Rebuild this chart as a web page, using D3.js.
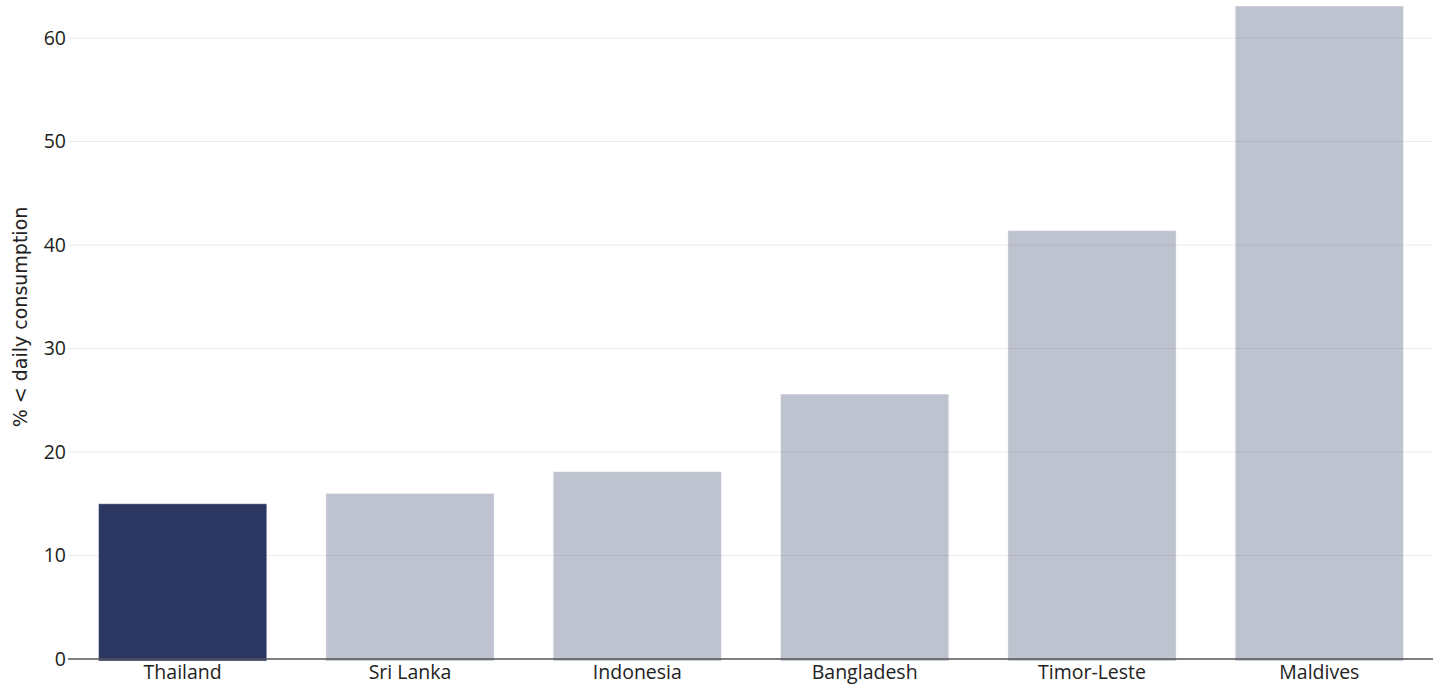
<!DOCTYPE html>
<html><head><meta charset="utf-8">
<script src="https://cdn.jsdelivr.net/npm/d3@7"></script>
<style>body{margin:0;background:#fff;} svg{display:block;}</style>
</head><body>
<svg id="chart" width="1442" height="686"></svg>
<script>
const categories = ["Thailand","Sri Lanka","Indonesia","Bangladesh","Timor-Leste","Maldives"];
const values = [15.0, 16.0, 18.1, 25.6, 41.4, 63.1];
const highlight = ["Thailand"];
const yTicks = [0,10,20,30,40,50,60];
const yLabel = "% < daily consumption";

const svg = d3.select("#chart");
const m = {left:69, right:9, top:6, bottom:27};
const W = 1442, H = 686;
const x = d3.scaleBand().domain(categories).range([m.left, W - m.right]).paddingInner(0.26).paddingOuter(0.13);
const y = d3.scaleLinear().domain([0, 63.1]).range([H - m.bottom, m.top]);

const font = "'Open Sans', 'Noto Sans', sans-serif";
// gridlines
svg.append("g").selectAll("line").data(yTicks.filter(d=>d>0)).join("line")
  .attr("x1", 68).attr("x2", W - m.right)
  .attr("y1", d=>y(d)).attr("y2", d=>y(d))
  .attr("stroke", "#ebebeb").attr("stroke-width", 1);

// bars
svg.append("g").selectAll("rect").data(categories).join("rect")
  .attr("x", d=>x(d)).attr("width", x.bandwidth())
  .attr("y", (d,i)=>y(values[i])).attr("height", (d,i)=>y(0) - y(values[i]) + 2)
  .attr("fill", d=>highlight.includes(d) ? "#2c3761" : "rgba(44,55,97,0.3)")
  .attr("stroke", "rgba(255,255,255,0.4)").attr("stroke-width", 1);

// x axis
const xa = svg.append("g").attr("transform", `translate(0,${y(0)})`)
  .call(d3.axisBottom(x).tickSize(0).tickPadding(5));
xa.select(".domain").attr("stroke", "#555").attr("stroke-width", 1.5).attr("d", `M68,0H${W - m.right}`);
xa.selectAll("text").attr("font-family", font).attr("font-size", 19.5).attr("fill", "#222").attr("dy", "0.75em");

// y axis
const ya = svg.append("g").attr("transform", `translate(66,0)`)
  .call(d3.axisLeft(y).tickValues(yTicks).tickSize(0).tickPadding(0));
ya.select(".domain").remove();
ya.selectAll("text").attr("font-family", font).attr("font-size", 19.5).attr("fill", "#222");

svg.append("text").attr("transform", `translate(27,317) rotate(-90)`)
  .attr("text-anchor", "middle").attr("font-family", "'DejaVu Sans', sans-serif")
  .attr("font-size", 19).attr("fill", "#222").text(yLabel);
</script>
</body></html>
